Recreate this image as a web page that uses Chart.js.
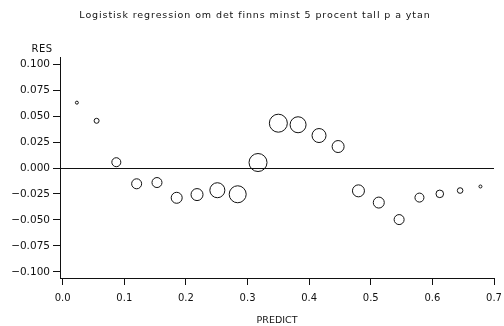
<!DOCTYPE html>
<html>
<head>
<meta charset="utf-8">
<script src="https://cdn.jsdelivr.net/npm/chart.js@4"></script>
<style>
  html, body { margin: 0; padding: 0; background: #fff; }
  #wrap { width: 504px; height: 326px; }
</style>
</head>
<body>
<div id="wrap"><canvas id="chart" width="504" height="326"></canvas></div>
<script>
const title = 'Logistisk regression om det finns minst 5 procent tall p a ytan'

// predicted probability, residual and bubble radius per group
const predict = [0.023, 0.055, 0.087, 0.120, 0.153, 0.185, 0.218, 0.251, 0.284, 0.317, 0.350,
  0.382, 0.416, 0.447, 0.480, 0.513, 0.546, 0.579, 0.612, 0.645, 0.678]
const res = [0.063, 0.0455, 0.0056, -0.0152, -0.014, -0.0287, -0.0256, -0.0214, -0.0253, 0.0053, 0.0432,
  0.0417, 0.0313, 0.0207, -0.022, -0.0333, -0.0497, -0.0285, -0.0249, -0.0217, -0.0178]
const size = [1.5, 2.5, 4.5, 5, 5, 5.5, 6, 7.5, 8.5, 9, 9,
  8, 7, 6, 6, 5.5, 5, 4.5, 3.8, 2.8, 1.5]

const xTicks = [0, 0.1, 0.2, 0.3, 0.4, 0.5, 0.6, 0.7]
const yTicks = [-0.1, -0.075, -0.05, -0.025, 0, 0.025, 0.05, 0.075, 0.1]

const ink = '#111'
const font = 'DejaVu Sans'

const fmt = (v, d) => (v < 0 ? '\u2212' : '') + Math.abs(v).toFixed(d)

// title, y label and the zero reference line
const extras = {
  id: 'extras',
  beforeDatasetsDraw (chart) {
    const { ctx, chartArea, scales } = chart
    const y0 = Math.round(scales.y.getPixelForValue(0)) + 0.5
    ctx.save()
    ctx.strokeStyle = ink
    ctx.lineWidth = 1
    ctx.beginPath()
    ctx.moveTo(chartArea.left, y0)
    ctx.lineTo(chartArea.right, y0)
    ctx.stroke()
    ctx.restore()
  },
  afterDraw (chart) {
    const { ctx } = chart
    ctx.save()
    ctx.fillStyle = ink
    ctx.textBaseline = 'middle'
    ctx.textAlign = 'center'
    ctx.font = `9.5px "${font}"`
    ctx.letterSpacing = '0.9px'
    ctx.fillText(title, 255, 16)
    ctx.letterSpacing = '0.5px'
    ctx.font = `10px "${font}"`
    ctx.fillText('RES', 42, 49)
    ctx.restore()
  }
}

new Chart('chart', {
  type: 'bubble',
  data: {
    datasets: [{
      data: predict.map((x, i) => ({ x, y: res[i], r: size[i] })),
      backgroundColor: 'rgba(0,0,0,0)',
      borderColor: ink,
      borderWidth: 1,
      hoverRadius: 0
    }]
  },
  options: {
    responsive: false,
    animation: false,
    events: [],
    layout: { padding: { top: 57, right: 9, bottom: 0, left: 0 } },
    plugins: { legend: { display: false }, tooltip: { enabled: false } },
    scales: {
      x: {
        type: 'linear',
        min: -0.0044,
        max: 0.7,
        afterBuildTicks: s => { s.ticks = xTicks.map(value => ({ value })) },
        afterFit: s => {
          s.height = 48
          s.paddingLeft = 0
          s.paddingRight = 0
        },
        grid: { drawOnChartArea: false, tickLength: 7, tickColor: ink },
        border: { color: ink, width: 1 },
        ticks: {
          color: ink,
          font: { family: font, size: 10 },
          padding: 7,
          maxRotation: 0,
          callback: v => fmt(v, 1)
        },
        title: {
          display: true,
          text: 'PREDICT',
          color: ink,
          font: { family: font, size: 9.5 },
          padding: { top: 0, bottom: 0 }
        }
      },
      y: {
        min: -0.106,
        max: 0.107,
        afterBuildTicks: s => { s.ticks = yTicks.map(value => ({ value })) },
        afterFit: s => { s.width = 60 },
        grid: { drawOnChartArea: false, tickLength: 7, tickColor: ink },
        border: { color: ink, width: 1 },
        ticks: {
          color: ink,
          font: { family: font, size: 10.5 },
          padding: 3,
          callback: v => fmt(v, 3)
        }
      }
    }
  },
  plugins: [extras]
})
</script>
</body>
</html>
